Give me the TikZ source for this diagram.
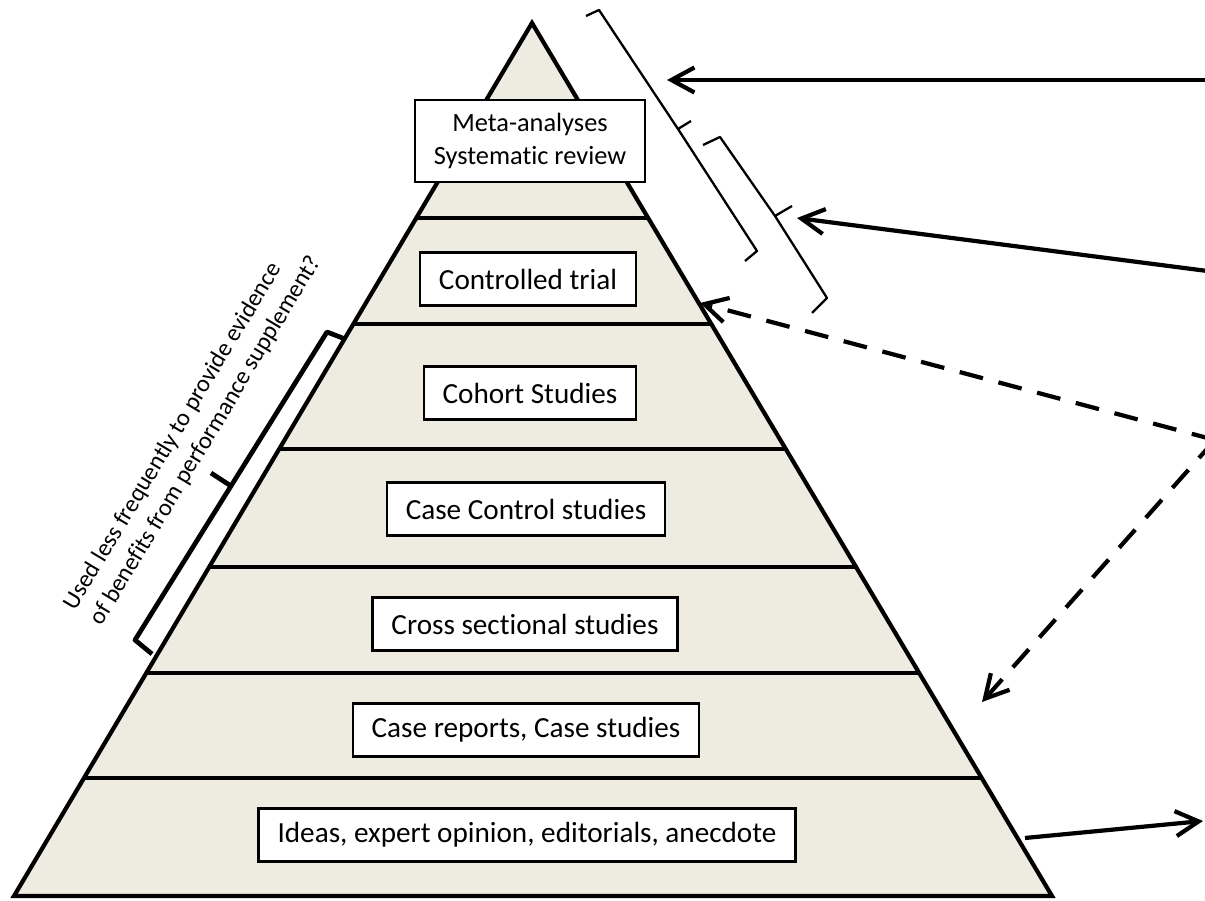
\documentclass[tikz,border=0pt]{standalone}
\usepackage{fontspec}
\setmainfont{Carlito}[Ligatures=NoCommon]
\usetikzlibrary{arrows.meta,calc}
\definecolor{tan}{HTML}{EEECE1}

\begin{document}
\begin{tikzpicture}[x=0.01cm,y=-0.01cm,
    level/.style={draw,fill=white,line width=0.6pt,inner xsep=0.19cm,inner ysep=0pt,
      minimum height=0.53cm,font=\fontsize{8.3}{10}\selectfont},
    tier/.style={line width=1.2pt},
    bracket/.style={line width=0.65pt,line join=round},
    link/.style={line width=1.2pt,-{Straight Barb[length=2.3mm,width=2.5mm]}},
    guess/.style={link,dash pattern=on 0.24cm off 0.16cm}]
  \useasboundingbox (0,0) rectangle (1205,901);
  \coordinate (apex) at (532,23);
  \coordinate (bl) at (14,896);
  \coordinate (br) at (1052,896);
  \fill[tan] (apex) -- (bl) -- (br) -- cycle;
  \foreach \y in {218,324,449,567,673,778}
    \draw[tier] ($(apex)!{(\y-23)/873}!(bl)$) -- ($(apex)!{(\y-23)/873}!(br)$);
  \draw[line width=1.2pt] (apex) -- (bl) -- (br) -- cycle;

  \node[level,font=\fontsize{7.5}{9.4}\selectfont,align=center,minimum height=0.82cm]
    (meta) at (530,141) {Meta-analyses\\Systematic review};
  \node[level] (trial) at (528,279) {Controlled trial};
  \node[level] (cohort) at (530,393) {Cohort Studies};
  \node[level] (casectrl) at (526,509) {Case Control studies};
  \node[level] (cross) at (525,624) {Cross sectional studies};
  \node[level] (reports) at (526,730) {Case reports, Case studies};
  \node[level] (ideas) at (527,835) {Ideas, expert opinion, editorials, anecdote};

  % brackets along the sides
  \draw[bracket] (586,16) -- (599,10) -- (678,129) -- (691,121)
    (678,129) -- (757,251) -- (745,261);
  \draw[bracket] (703,145) -- (720,137) -- (775,216) -- (792,206)
    (775,216) -- (827,298) -- (812,313);
  \draw[bracket,line width=1.35pt] (345,339) -- (327,332) -- (231,486) -- (211,473)
    (231,486) -- (135,640) -- (152,654);
  \node[rotate=59,align=left,inner sep=0pt,font=\fontsize{6.9}{8.6}\selectfont]
    (usedless) at (193,433) {Used less frequently to provide evidence\\of benefits from performance supplement?};

  % arrows from the right
  \coordinate (src1) at (1215,80);
  \coordinate (to1) at (667,80);
  \coordinate (src2) at (1215,272);
  \coordinate (to2) at (797,218);
  \coordinate (hub) at (1215,440);
  \coordinate (to3) at (700,303);
  \coordinate (to4) at (982,702);
  \coordinate (from5) at (1025,838);
  \coordinate (to5) at (1203,821);
  \draw[link] (src1) -- (to1);
  \draw[link] (src2) -- (to2);
  \draw[guess] (hub) -- (to3);
  \draw[guess] (hub) -- (to4);
  \draw[link] (from5) -- (to5);
\end{tikzpicture}
\end{document}
